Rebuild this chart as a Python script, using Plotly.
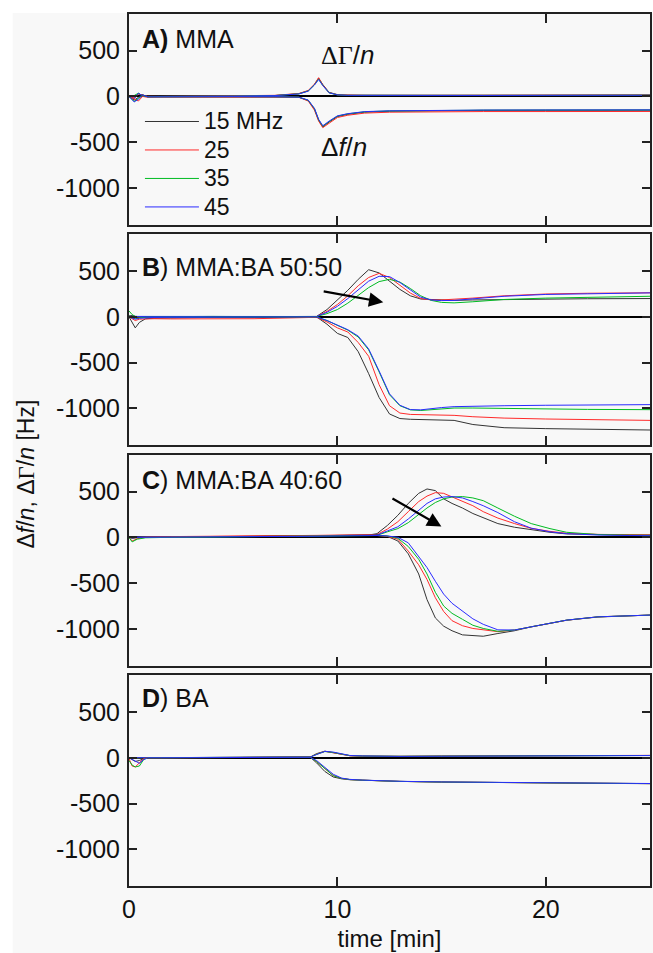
import plotly.graph_objects as go

# ---------------- data ----------------
freq_names = ["15 MHz", "25", "35", "45"]
colors = ["#333333", "#ff2a2a", "#00bb22", "#2a2aff"]

# Panel A: MMA
tA = [0, 0.25, 0.45, 0.65, 0.9, 1.5, 3, 5, 7, 8.15, 8.6, 8.9, 9.1, 9.3, 9.6, 10.0, 10.5, 11.3, 12.5, 14.5, 17, 20, 23, 25]
dgA_15 = [0, -20, 30, 10, 0, 0, 2, 3, 10, 30, 62, 130, 200, 130, 45, 20, 14, 12, 12, 12, 12, 13, 14, 15]
dgA_25 = [0, -10, 25, 15, 2, 1, 3, 5, 12, 32, 65, 135, 205, 125, 42, 18, 13, 12, 12, 12, 13, 14, 15, 16]
dgA_35 = [0, 10, 35, 5, 0, 0, 2, 4, 10, 28, 60, 128, 190, 120, 40, 17, 12, 11, 11, 11, 12, 12, 13, 14]
dgA_45 = [0, -25, 35, 8, 0, 0, 1, 3, 9, 27, 58, 125, 185, 118, 40, 17, 12, 11, 11, 11, 11, 12, 12, 13]
dfA_15 = [0, -40, -10, 20, -5, -5, -3, -2, -4, -8, -45, -140, -260, -335, -280, -220, -195, -172, -162, -155, -152, -151, -150, -150]
dfA_25 = [0, -30, -50, 0, -10, -8, -6, -5, -6, -10, -50, -150, -270, -340, -290, -230, -205, -182, -172, -167, -165, -165, -164, -164]
dfA_35 = [0, -55, -20, 10, -5, -4, -3, -2, -3, -8, -42, -135, -255, -325, -275, -215, -190, -168, -158, -152, -150, -149, -148, -148]
dfA_45 = [0, -60, -30, 15, -5, -4, -3, -2, -3, -8, -40, -130, -250, -320, -270, -212, -188, -166, -157, -151, -149, -148, -147, -147]

# Panel B: MMA:BA 50:50
tB = [0, 0.15, 0.3, 0.5, 0.8, 1.2, 2, 4, 6, 8, 9.0, 9.5, 10.0, 10.5, 11.0, 11.5, 12.0, 12.5, 13.0, 13.5, 14.0, 14.5, 15.0, 15.6, 16.5, 18, 20, 22, 25]
dgB_15 = [10, 15, 5, 0, 0, 0, 2, 3, 2, 4, 5, 80, 180, 290, 410, 515, 480, 390, 300, 230, 195, 190, 185, 180, 185, 190, 195, 198, 200]
dgB_25 = [0, 5, 0, -5, -5, -8, -5, -3, -4, 0, 3, 60, 135, 230, 340, 430, 475, 430, 340, 260, 200, 185, 185, 190, 205, 230, 250, 258, 263]
dgB_35 = [65, 25, 5, 0, 0, 2, 4, 5, 3, 5, 4, 35, 80, 150, 240, 320, 385, 410, 380, 310, 230, 180, 158, 153, 165, 190, 205, 215, 225]
dgB_45 = [5, 5, 0, 0, -2, 0, 2, 3, 5, 6, 4, 50, 115, 200, 300, 390, 443, 440, 375, 290, 215, 185, 178, 180, 195, 225, 245, 255, 262]
dfB_15 = [0, -60, -120, -60, -20, -15, -10, -5, -5, 0, 0, -80, -180, -225, -380, -620, -880, -1060, -1110, -1118, -1120, -1120, -1122, -1130, -1175, -1210, -1220, -1228, -1235]
dfB_25 = [0, -20, -40, -25, -20, -20, -22, -25, -20, -10, -5, -55, -120, -165, -280, -430, -740, -970, -1050, -1065, -1068, -1070, -1072, -1075, -1090, -1105, -1115, -1122, -1130]
dfB_35 = [10, -10, -20, -10, -5, -5, -3, -2, 0, 2, 0, -40, -95, -145, -220, -360, -600, -850, -970, -1015, -1022, -1015, -1005, -995, -995, -1000, -1005, -1010, -1013]
dfB_45 = [0, -15, -25, -15, -8, -6, -5, -3, -2, 0, 0, -40, -90, -140, -210, -350, -590, -840, -965, -1012, -1015, -1000, -990, -980, -975, -970, -965, -962, -958]

# Panel C: MMA:BA 40:60
tC = [0, 0.15, 0.4, 0.8, 2, 4, 6, 8, 10, 11.0, 11.5, 11.9, 12.4, 12.9, 13.4, 13.9, 14.3, 14.7, 15.1, 15.5, 16.0, 16.5, 17.0, 17.7, 18.5, 19.3, 20.2, 21.0, 22.5, 24, 25]
dgC_15 = [0, 0, 2, 3, 5, 8, 10, 15, 20, 22, 25, 40, 130, 240, 370, 480, 528, 510, 420, 370, 320, 260, 215, 150, 110, 81, 55, 37, 28, 25, 25]
dgC_25 = [0, -5, 0, 5, 8, 10, 15, 18, 22, 25, 28, 30, 90, 170, 280, 390, 450, 488, 480, 440, 390, 345, 280, 210, 150, 98, 65, 44, 32, 28, 27]
dgC_35 = [0, -5, 0, 2, 5, 6, 10, 12, 18, 20, 22, 22, 60, 95, 160, 250, 320, 380, 420, 440, 445, 430, 400, 320, 230, 150, 95, 55, 30, 24, 22]
dgC_45 = [0, 0, 0, 2, 4, 6, 8, 12, 18, 20, 25, 25, 70, 115, 200, 300, 370, 420, 440, 445, 430, 390, 345, 270, 170, 100, 60, 40, 25, 20, 18]
dfC_15 = [0, -10, -5, 0, 5, 5, 10, 15, 20, 20, 25, 25, 10, -40, -180, -400, -680, -880, -970, -1020, -1065, -1075, -1080, -1050, -1020, -977, -940, -905, -870, -855, -849]
dfC_25 = [0, -40, -15, 0, 5, 10, 12, 15, 20, 22, 25, 20, 10, -20, -150, -300, -460, -660, -810, -910, -965, -995, -1010, -1030, -1012, -977, -940, -905, -868, -855, -849]
dfC_35 = [0, -50, -20, -5, 0, 5, 8, 12, 15, 18, 20, 20, 15, -10, -100, -240, -400, -600, -750, -830, -895, -960, -995, -1026, -1012, -977, -940, -904, -868, -855, -849]
dfC_45 = [0, -5, 0, 0, 2, 4, 8, 10, 15, 18, 22, 20, 15, 0, -60, -210, -330, -480, -620, -720, -800, -890, -950, -1010, -1012, -977, -940, -904, -868, -855, -849]

# Panel D: BA
tD = [0, 0.15, 0.3, 0.5, 0.7, 0.9, 1.5, 3, 5, 7, 8.0, 8.7, 9.0, 9.4, 9.8, 10.2, 10.6, 11.2, 12, 13, 15, 17.5, 20, 22.5, 25]
dgD_15 = [0, 0, 5, 5, 0, 0, 0, 2, 3, 5, 5, 8, 45, 72, 55, 35, 22, 18, 15, 15, 18, 20, 22, 24, 25]
dgD_25 = [0, -5, 0, 2, 0, 0, 0, 2, 4, 6, 6, 8, 40, 70, 55, 35, 22, 18, 16, 16, 19, 21, 23, 25, 26]
dgD_35 = [0, -5, -5, 0, 0, 0, 0, 1, 3, 5, 5, 8, 38, 68, 58, 38, 24, 19, 16, 16, 18, 20, 22, 24, 25]
dgD_45 = [0, 0, 0, 0, 0, 0, 0, 1, 3, 4, 5, 8, 35, 70, 62, 40, 25, 20, 16, 15, 17, 19, 21, 23, 24]
dfD_15 = [0, -20, -40, -30, -10, 0, 0, 2, 4, 5, 6, 5, -55, -150, -210, -230, -240, -246, -252, -258, -265, -272, -276, -279, -283]
dfD_25 = [-10, -90, -100, -50, -10, 0, 0, 2, 4, 5, 6, 5, -40, -120, -195, -225, -238, -245, -252, -258, -265, -272, -275, -278, -282]
dfD_35 = [-30, -80, -100, -90, -20, 0, 0, 2, 4, 5, 6, 5, -40, -120, -195, -225, -238, -245, -252, -258, -265, -272, -275, -278, -282]
dfD_45 = [0, -20, -40, -60, -20, 0, 0, 2, 4, 5, 6, 5, -30, -100, -180, -222, -236, -244, -251, -257, -264, -271, -274, -277, -281]

panel_labels = ["<b>A)</b> MMA", "<b>B</b>) MMA:BA 50:50", "<b>C</b>) MMA:BA 40:60", "<b>D</b>) BA"]
label_y = [631, 547, 626, 650]
ytick_vals = [500, 0, -500, -1000]
ytick_text = ["500", "0", "-500", "-1000"]
xtick_vals = [0, 10, 20]
xtick_text = ["0", "10", "20"]

panels = [
    (tA, [dfA_15, dfA_25, dfA_35, dfA_45], [dgA_15, dgA_25, dgA_35, dgA_45]),
    (tB, [dfB_15, dfB_25, dfB_35, dfB_45], [dgB_15, dgB_25, dgB_35, dgB_45]),
    (tC, [dfC_15, dfC_25, dfC_35, dfC_45], [dgC_15, dgC_25, dgC_35, dgC_45]),
    (tD, [dfD_15, dfD_25, dfD_35, dfD_45], [dgD_15, dgD_25, dgD_35, dgD_45]),
]

# ---------------- figure ----------------
FONT = "Liberation Sans, Arial, sans-serif"
BG = "#f8f8f8"
FRAME = "#222222"

fig = go.Figure()
domains = [[0.7584, 1.0], [0.5056, 0.7472], [0.2528, 0.4944], [0.0, 0.2416]]

for i, (t, dfs, dgs) in enumerate(panels):
    ax = "" if i == 0 else str(i + 1)
    for k in range(4):
        fig.add_trace(go.Scatter(x=t, y=dgs[k], mode="lines", line=dict(color=colors[k], width=1),
                                 xaxis="x" + ax, yaxis="y" + ax, showlegend=False, hoverinfo="skip"))
    for k in range(4):
        fig.add_trace(go.Scatter(x=t, y=dfs[k], mode="lines", line=dict(color=colors[k], width=1),
                                 xaxis="x" + ax, yaxis="y" + ax,
                                 name="<span style='font-size:23px'>" + freq_names[k] + "</span>",
                                 showlegend=(i == 0), hoverinfo="skip"))

layout = dict(
    width=653, height=953,
    margin=dict(l=129, r=1, t=14, b=67),
    paper_bgcolor="white", plot_bgcolor=BG,
    font=dict(family=FONT, size=24, color="#111111"),
    showlegend=True,
    legend=dict(x=0.021, y=0.8988, xanchor="left", yanchor="top", bgcolor="rgba(0,0,0,0)",
                font=dict(size=19.6, family=FONT), itemwidth=54, tracegroupgap=0),
)
for i in range(4):
    ax = "" if i == 0 else str(i + 1)
    layout["xaxis" + ax] = dict(
        domain=[0, 1], range=[0, 25], anchor="y" + ax,
        tickvals=xtick_vals, ticktext=xtick_text, ticks="inside", ticklen=9, tickwidth=2,
        tickcolor=FRAME, showline=True, linecolor=FRAME, linewidth=2, mirror="ticks",
        showgrid=False, zeroline=False, showticklabels=(i == 3),
        tickfont=dict(size=25),
    )
    layout["yaxis" + ax] = dict(
        domain=domains[i], range=[-1400, 900], anchor="x" + ax,
        tickvals=ytick_vals, ticktext=ytick_text, ticks="inside", ticklen=8, tickwidth=2,
        tickcolor=FRAME, showline=True, linecolor=FRAME, linewidth=2, mirror="ticks",
        showgrid=False, zeroline=True, zerolinecolor="#000000", zerolinewidth=1.5,
        tickfont=dict(size=25), ticklabelstandoff=2,
    )
layout["xaxis4"]["title"] = dict(text="time [min]", font=dict(size=24), standoff=8)
fig.update_layout(**layout)

# gray page background with thin white strip at top/left
fig.add_shape(type="rect", xref="paper", yref="paper", x0=-0.2233, x1=1.01, y0=-0.09, y1=1.0011,
              fillcolor=BG, line=dict(width=0), layer="below")

# panel labels
for i in range(4):
    ax = "" if i == 0 else str(i + 1)
    fig.add_annotation(x=0.55, y=label_y[i], xref="x" + ax, yref="y" + ax, text=panel_labels[i],
                       showarrow=False, xanchor="left", yanchor="middle", font=dict(size=25, family=FONT))

# ΔΓ/n and Δf/n labels in panel A
fig.add_annotation(x=10.5, y=456, xref="x", yref="y",
                   text="<span style='font-family:Liberation Serif'>ΔΓ</span>/<i>n</i>",
                   showarrow=False, font=dict(size=26, family=FONT))
fig.add_annotation(x=10.3, y=-550, xref="x", yref="y", text="Δ<i>f</i>/<i>n</i>",
                   showarrow=False, font=dict(size=26, family=FONT))

# arrows in B and C
fig.add_annotation(x=12.2, y=161, ax=9.27, ay=281, xref="x2", yref="y2", axref="x2", ayref="y2",
                   text="", showarrow=True, arrowhead=2, arrowsize=1.3, arrowwidth=2.2, arrowcolor="#000")
fig.add_annotation(x=14.99, y=117, ax=12.57, ay=434, xref="x3", yref="y3", axref="x3", ayref="y3",
                   text="", showarrow=True, arrowhead=2, arrowsize=1.3, arrowwidth=2.2, arrowcolor="#000")

# y-axis title
fig.add_annotation(x=-0.1985, y=0.4725, xref="paper", yref="paper", textangle=-90,
                   xanchor="center", yanchor="middle",
                   text="Δ<i>f</i>/<i>n</i>, Δ<span style='font-family:Liberation Serif'>Γ</span>/<i>n</i> [Hz]",
                   showarrow=False, font=dict(size=23, family=FONT))

fig.write_html("out.html")
